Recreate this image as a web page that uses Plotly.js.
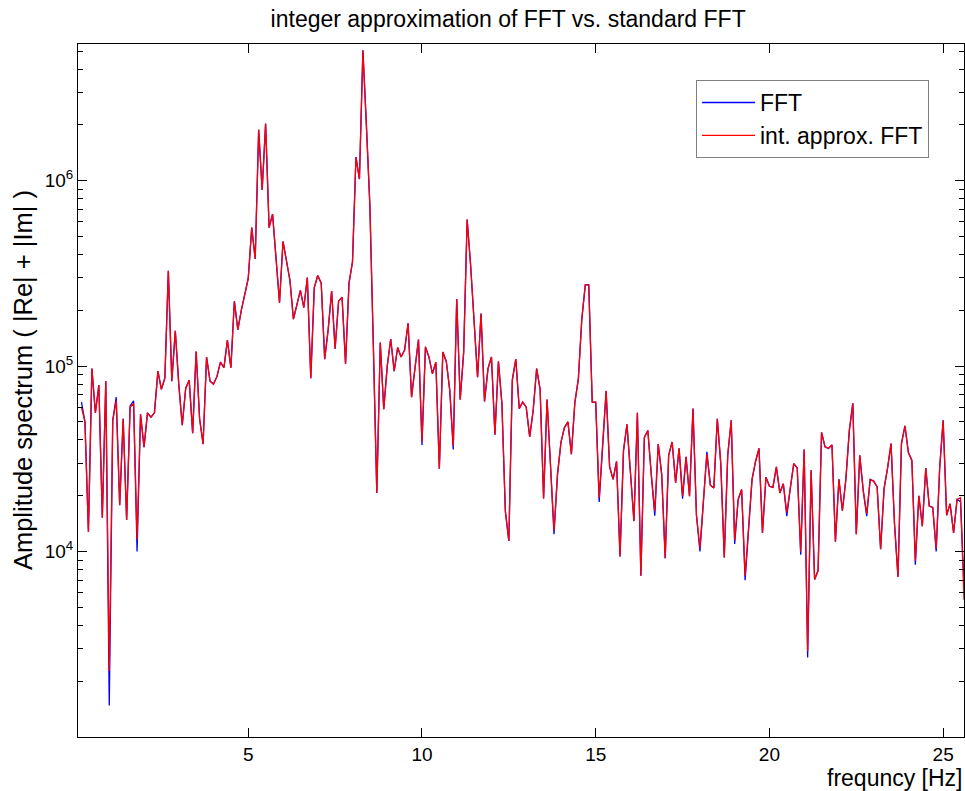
<!DOCTYPE html>
<html>
<head>
<meta charset="utf-8">
<script src="https://cdn.plot.ly/plotly-3.0.1.min.js"></script>
<style>
  html, body { margin: 0; padding: 0; background: #ffffff; }
  #chart { width: 965px; height: 791px; }
</style>
</head>
<body>
<div id="chart"></div>
<script>
// Spectrum bins: first bin and bin spacing in Hz
const firstBin = 0.2;
const binWidth = 0.1;

// Amplitude spectrum (|Re| + |Im|) from the standard floating-point FFT
const fftAmplitude = [
  6.4e4, 5.0e4, 1.28e4, 9.7e4, 5.6e4, 7.9e4, 1.52e4, 8.3e4, 1.48e3,          // 0.2 - 1.0
  5.1e4, 6.8e4, 1.78e4, 5.2e4, 1.48e4, 6.1e4, 6.5e4, 1.0e4, 5.5e4, 3.66e4,   // 1.1 - 2.0
  5.6e4, 5.3e4, 5.6e4, 9.4e4, 7.5e4, 8.6e4, 3.27e5, 8.3e4, 1.55e5, 8.0e4,    // 2.1 - 3.0
  4.8e4, 7.6e4, 8.4e4, 4.35e4, 1.2e5, 5.2e4, 3.8e4, 1.12e5, 8.3e4, 8.0e4,    // 3.1 - 4.0
  8.8e4, 1.05e5, 9.8e4, 1.38e5, 9.8e4, 2.24e5, 1.57e5, 2.0e5, 2.42e5, 2.97e5, // 4.1 - 5.0
  5.58e5, 3.78e5, 1.88e6, 8.9e5, 2.03e6, 5.58e5, 6.6e5, 3.8e5, 2.2e5, 4.7e5, // 5.1 - 6.0
  3.7e5, 2.9e5, 1.79e5, 2.12e5, 2.56e5, 2.07e5, 3.0e5, 8.6e4, 2.65e5, 3.08e5, // 6.1 - 7.0
  2.8e5, 1.09e5, 1.57e5, 2.54e5, 1.24e5, 2.24e5, 2.35e5, 1.03e5, 2.8e5, 3.65e5, // 7.1 - 8.0
  1.34e6, 1.02e6, 5.05e6, 2.0e6, 7.4e5, 1.3e5, 2.07e4, 1.34e5, 5.85e4, 1.0e5, // 8.1 - 9.0
  1.4e5, 9.4e4, 1.26e5, 1.12e5, 1.22e5, 1.7e5, 6.8e4, 9.8e4, 1.39e5, 3.76e4, // 9.1 - 10.0
  1.27e5, 1.12e5, 9.1e4, 1.05e5, 2.8e4, 1.19e5, 1.06e5, 7.4e4, 3.55e4, 2.3e5, // 10.1 - 11.0
  6.6e4, 1.19e5, 6.18e5, 3.5e5, 1.8e5, 8.7e4, 1.92e5, 6.45e4, 9.7e4, 1.12e5, // 11.1 - 12.0
  4.27e4, 1.06e5, 6.3e4, 1.65e4, 1.14e4, 8.4e4, 1.09e5, 5.9e4, 6.4e4, 6.0e4, // 12.1 - 13.0
  4.15e4, 5.75e4, 9.7e4, 7.5e4, 1.93e4, 6.6e4, 2.9e4, 1.24e4, 2.6e4, 3.88e4, // 13.1 - 14.0
  4.66e4, 5.0e4, 3.35e4, 6.35e4, 8.5e4, 1.79e5, 2.74e5, 2.74e5, 6.4e4, 6.4e4, // 14.1 - 15.0
  1.85e4, 3.9e4, 7.35e4, 2.87e4, 2.45e4, 3.06e4, 9.4e3, 3.5e4, 4.85e4, 2.67e4, // 15.1 - 16.0
  1.46e4, 5.6e4, 7.4e3, 4.12e4, 4.5e4, 2.6e4, 1.56e4, 3.8e4, 2.6e4, 9.2e3,   // 16.1 - 17.0
  3.3e4, 3.9e4, 2.35e4, 3.6e4, 1.93e4, 3.24e4, 1.99e4, 5.9e4, 1.57e4, 1.0e4, // 17.1 - 18.0
  1.86e4, 3.45e4, 2.28e4, 2.2e4, 5.2e4, 2.98e4, 9.3e3, 3.3e4, 5.1e4, 1.1e4,  // 18.1 - 19.0
  1.91e4, 2.16e4, 7.0e3, 1.41e4, 2.45e4, 3.06e4, 3.6e4, 1.26e4, 2.52e4, 2.25e4, // 19.1 - 20.0
  2.22e4, 2.86e4, 2.07e4, 2.32e4, 1.55e4, 2.19e4, 2.98e4, 2.82e4, 9.6e3, 3.55e4, // 20.1 - 21.0
  2.68e3, 2.74e4, 7.06e3, 7.9e3, 4.39e4, 3.67e4, 3.6e4, 3.76e4, 1.13e4, 2.45e4, // 21.1 - 22.0
  1.66e4, 2.45e4, 4.5e4, 6.3e4, 1.24e4, 3.3e4, 2.13e4, 1.55e4, 2.45e4, 2.4e4, // 22.1 - 23.0
  2.23e4, 1.03e4, 2.19e4, 2.82e4, 3.82e4, 1.41e4, 7.3e3, 3.82e4, 4.76e4, 3.42e4, // 23.1 - 24.0
  3.1e4, 8.5e3, 2.0e4, 1.37e4, 2.82e4, 1.76e4, 1.73e4, 1.0e4, 2.82e4, 5.1e4, // 24.1 - 25.0
  1.57e4, 1.81e4, 1.26e4, 1.91e4, 1.86e4, 6.6e3                              // 25.1 - 25.6
];

// Amplitude spectrum from the integer approximation of the FFT
const approxAmplitude = [
  6.0e4, 5.0e4, 1.28e4, 9.7e4, 5.6e4, 7.9e4, 1.52e4, 8.3e4, 2.27e3,          // 0.2 - 1.0
  5.1e4, 6.5e4, 1.78e4, 5.2e4, 1.48e4, 6.0e4, 6.3e4, 1.16e4, 5.5e4, 3.66e4,  // 1.1 - 2.0
  5.6e4, 5.3e4, 5.6e4, 9.4e4, 7.5e4, 8.6e4, 3.27e5, 8.3e4, 1.55e5, 8.0e4,    // 2.1 - 3.0
  4.8e4, 7.6e4, 8.4e4, 4.35e4, 1.2e5, 5.2e4, 3.8e4, 1.12e5, 8.3e4, 8.0e4,    // 3.1 - 4.0
  8.8e4, 1.05e5, 9.8e4, 1.38e5, 9.8e4, 2.24e5, 1.57e5, 2.0e5, 2.42e5, 2.97e5, // 4.1 - 5.0
  5.58e5, 3.78e5, 1.88e6, 8.9e5, 2.03e6, 5.58e5, 6.6e5, 3.8e5, 2.2e5, 4.7e5, // 5.1 - 6.0
  3.7e5, 2.9e5, 1.79e5, 2.12e5, 2.56e5, 2.07e5, 3.0e5, 8.6e4, 2.65e5, 3.08e5, // 6.1 - 7.0
  2.8e5, 1.09e5, 1.57e5, 2.54e5, 1.24e5, 2.24e5, 2.35e5, 1.03e5, 2.8e5, 3.65e5, // 7.1 - 8.0
  1.34e6, 1.02e6, 5.05e6, 2.0e6, 7.4e5, 1.3e5, 2.07e4, 1.34e5, 5.85e4, 1.0e5, // 8.1 - 9.0
  1.4e5, 9.4e4, 1.26e5, 1.12e5, 1.22e5, 1.7e5, 6.8e4, 9.8e4, 1.39e5, 3.9e4,  // 9.1 - 10.0
  1.27e5, 1.12e5, 9.1e4, 1.05e5, 2.8e4, 1.19e5, 1.06e5, 7.4e4, 3.7e4, 2.3e5, // 10.1 - 11.0
  6.6e4, 1.19e5, 6.18e5, 3.5e5, 1.8e5, 8.7e4, 1.92e5, 6.45e4, 9.7e4, 1.12e5, // 11.1 - 12.0
  4.27e4, 1.06e5, 6.3e4, 1.65e4, 1.14e4, 8.4e4, 1.09e5, 5.9e4, 6.4e4, 6.0e4, // 12.1 - 13.0
  4.15e4, 5.75e4, 9.7e4, 7.5e4, 1.93e4, 6.6e4, 2.9e4, 1.3e4, 2.6e4, 3.88e4,  // 13.1 - 14.0
  4.66e4, 5.0e4, 3.35e4, 6.35e4, 8.5e4, 1.79e5, 2.74e5, 2.74e5, 6.4e4, 6.4e4, // 14.1 - 15.0
  1.95e4, 3.9e4, 7.35e4, 2.87e4, 2.45e4, 3.06e4, 9.4e3, 3.5e4, 4.85e4, 2.67e4, // 15.1 - 16.0
  1.46e4, 5.6e4, 7.4e3, 4.12e4, 4.5e4, 2.6e4, 1.65e4, 3.8e4, 2.6e4, 9.2e3,   // 16.1 - 17.0
  3.3e4, 3.9e4, 2.35e4, 3.6e4, 1.99e4, 3.24e4, 1.99e4, 5.9e4, 1.57e4, 1.05e4, // 17.1 - 18.0
  1.86e4, 3.35e4, 2.28e4, 2.2e4, 5.2e4, 2.98e4, 9.3e3, 3.3e4, 5.1e4, 1.15e4, // 18.1 - 19.0
  1.91e4, 2.16e4, 7.4e3, 1.41e4, 2.45e4, 3.06e4, 3.6e4, 1.26e4, 2.52e4, 2.25e4, // 19.1 - 20.0
  2.22e4, 2.86e4, 2.07e4, 2.32e4, 1.62e4, 2.19e4, 2.98e4, 2.82e4, 1.0e4, 3.55e4, // 20.1 - 21.0
  2.9e3, 2.74e4, 7.06e3, 7.9e3, 4.39e4, 3.67e4, 3.6e4, 3.76e4, 1.13e4, 2.45e4, // 21.1 - 22.0
  1.66e4, 2.45e4, 4.5e4, 6.3e4, 1.24e4, 3.3e4, 2.13e4, 1.6e4, 2.45e4, 2.4e4,  // 22.1 - 23.0
  2.23e4, 1.03e4, 2.19e4, 2.82e4, 3.82e4, 1.41e4, 7.3e3, 3.82e4, 4.76e4, 3.42e4, // 23.1 - 24.0
  3.1e4, 8.9e3, 2.0e4, 1.37e4, 2.82e4, 1.76e4, 1.73e4, 1.04e4, 2.82e4, 5.1e4, // 24.1 - 25.0
  1.57e4, 1.81e4, 1.26e4, 1.91e4, 1.95e4, 5.5e3                              // 25.1 - 25.6
];

// Bin frequencies for the spectrum samples
const frequency = fftAmplitude.map((_, i) => +(firstBin + i * binWidth).toFixed(1));

const FONT = 'Liberation Sans, Arial, Helvetica, sans-serif';

const traces = [
  {
    x: frequency, y: fftAmplitude, name: 'FFT',
    type: 'scatter', mode: 'lines',
    line: { color: '#0000ff', width: 1.3 }
  },
  {
    x: frequency, y: approxAmplitude, name: 'int. approx. FFT',
    type: 'scatter', mode: 'lines',
    line: { color: '#ff0000', width: 1.3 }
  }
];

// minor ticks at 2..9 of every decade
const minorTicks = [];
[1e3, 1e4, 1e5, 1e6].forEach(d => { for (let m = 2; m <= 9; m++) minorTicks.push(m * d); });

const layout = {
  width: 965, height: 791,
  paper_bgcolor: '#ffffff', plot_bgcolor: '#ffffff',
  margin: { l: 78, r: 1, t: 44, b: 54 },
  font: { family: FONT, color: '#000000', size: 19 },
  showlegend: true,
  title: {
    text: 'integer approximation of FFT vs. standard FFT',
    font: { family: FONT, size: 23, color: '#000000' },
    x: 0.4855, xref: 'paper', xanchor: 'center',
    y: 0.976, yref: 'container', yanchor: 'middle'
  },
  xaxis: {
    range: [0.1, 25.6],
    tickmode: 'array', tickvals: [5, 10, 15, 20, 25],
    ticks: 'inside', ticklen: 9, tickwidth: 1, tickcolor: '#000000',
    showline: true, linecolor: '#000000', linewidth: 1, mirror: 'ticks',
    showgrid: false, zeroline: false,
    tickfont: { family: FONT, size: 19, color: '#000000' }
  },
  yaxis: {
    type: 'log',
    range: [3.0, 6.737],
    tickmode: 'array', tickvals: [1e4, 1e5, 1e6],
    ticktext: ['10<sup>4</sup>', '10<sup>5</sup>', '10<sup>6</sup>'],
    ticks: 'inside', ticklen: 9, tickwidth: 1, tickcolor: '#000000',
    minor: { tickmode: 'array', tickvals: minorTicks, ticks: 'inside', ticklen: 5, tickwidth: 1, tickcolor: '#000000', showgrid: false },
    showline: true, linecolor: '#000000', linewidth: 1, mirror: 'ticks',
    showgrid: false, zeroline: false,
    tickfont: { family: FONT, size: 19, color: '#000000' }
  },
  legend: {
    x: 0.6975, y: 0.948, xanchor: 'left', yanchor: 'top',
    xref: 'paper', yref: 'paper',
    bgcolor: '#ffffff', bordercolor: '#808080', borderwidth: 1,
    font: { family: FONT, size: 23, color: '#000000' },
    itemwidth: 53, tracegroupgap: 0
  },
  annotations: [
    {
      // x-axis caption, right-aligned under the axis end
      text: 'frequncy [Hz]',
      xref: 'paper', yref: 'paper', x: 1, y: 0,
      xanchor: 'right', yanchor: 'top', yshift: -26, xshift: 1,
      showarrow: false,
      font: { family: FONT, size: 23, color: '#000000' }
    },
    {
      // y-axis caption
      text: 'Amplitude spectrum ( |Re| + |Im| )',
      xref: 'paper', yref: 'paper', x: 0, y: 0.515,
      xanchor: 'center', yanchor: 'middle', xshift: -55,
      textangle: -90, showarrow: false,
      font: { family: FONT, size: 25.5, color: '#000000' }
    }
  ]
};

Plotly.newPlot('chart', traces, layout, { displayModeBar: false, staticPlot: true });
</script>
</body>
</html>
